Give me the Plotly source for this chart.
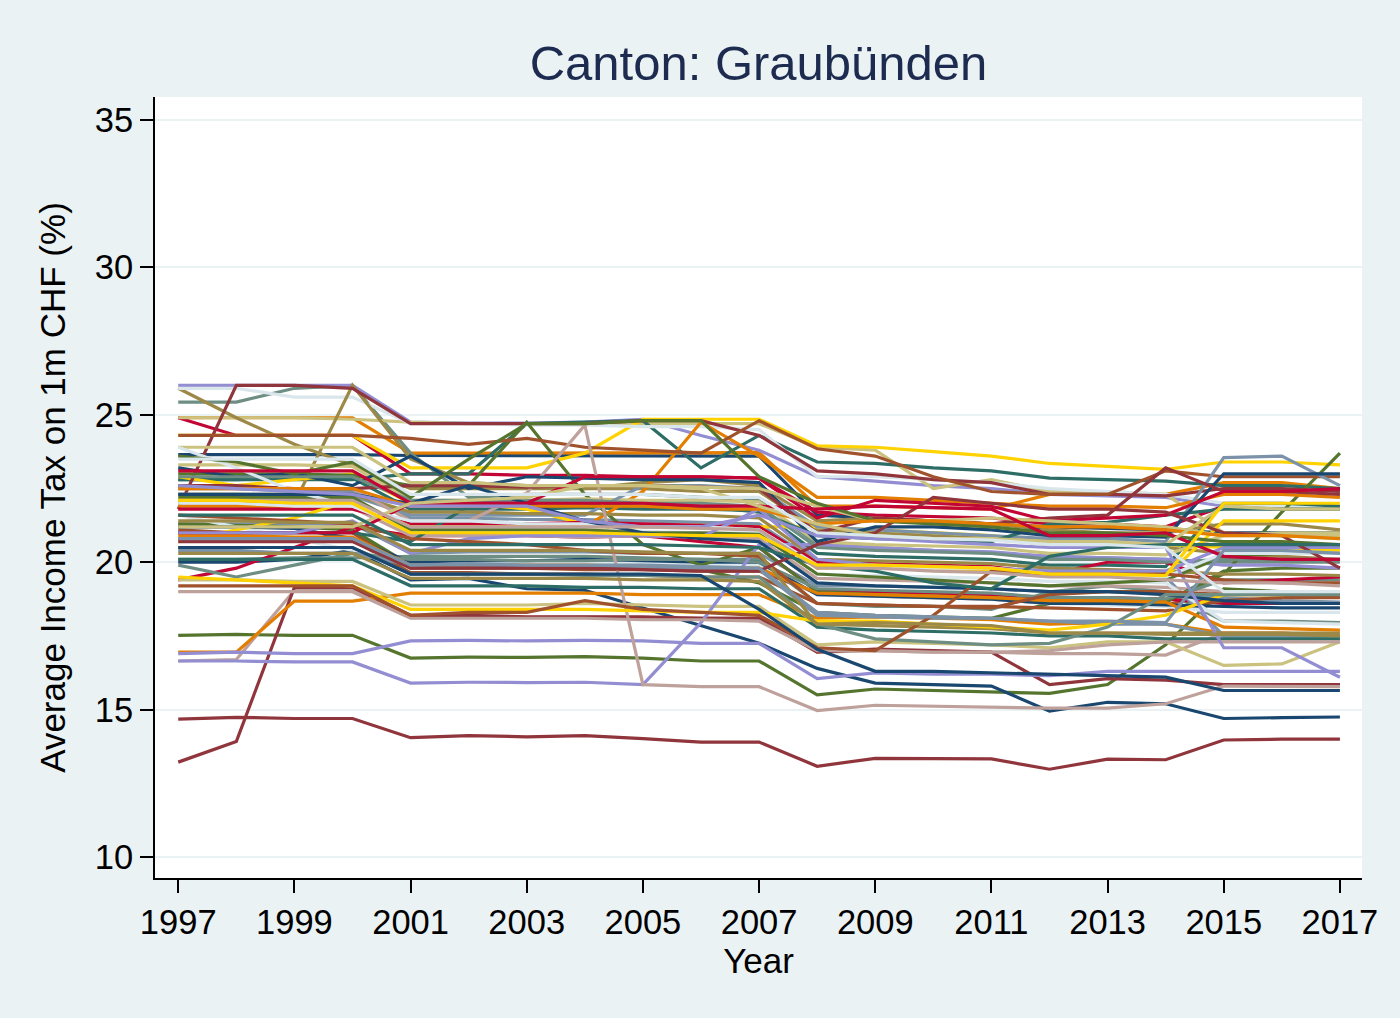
import plotly.graph_objects as go

years = list(range(1997, 2018))

# stata s2color palette
navy = "#1a476f"
maroon = "#90353b"
forest_green = "#55752f"
dkorange = "#e37e00"
teal = "#6e8e84"
cranberry = "#c10534"
lavender = "#938dd2"
khaki = "#cac27e"
sienna = "#a0522d"
emidblue = "#7b92a8"
emerald = "#2d6d66"
brown = "#9c8847"
erose = "#bfa19c"
gold = "#ffd200"
bluishgray = "#d9e6eb"

# one list per municipality, years 1997..2017 (tax in %)
muni_01 = [23.65, 23.65, 23.65, 23.65, 23.62, 23.62, 23.62, 23.62, 23.62, 23.6, 23.6, 21.6, 21.5, 21.4, 21.3, 21.2, 21.15, 21.1, 21.0, 21.0, 21.0]
muni_02 = [14.68, 14.74, 14.7, 14.7, 14.05, 14.12, 14.08, 14.12, 14.02, 13.9, 13.9, 13.08, 13.35, 13.33, 13.33, 12.98, 13.32, 13.3, 13.97, 14.0, 14.0]
muni_03 = [17.52, 17.55, 17.52, 17.52, 16.75, 16.78, 16.77, 16.8, 16.75, 16.65, 16.65, 15.5, 15.7, 15.65, 15.62, 15.55, 15.85, 17.2, 19.1, 19.0, 18.9]
muni_04 = [24.9, 24.9, 24.9, 24.9, 23.7, 23.7, 23.7, 23.7, 23.72, 23.72, 23.72, 21.9, 21.9, 21.85, 21.8, 22.3, 22.3, 22.3, 22.7, 22.7, 22.5]
muni_05 = [25.43, 25.43, 25.9, 26.0, 23.7, 22.2, 22.3, 22.3, 22.3, 22.2, 22.1, 20.6, 20.5, 20.4, 20.3, 20.2, 20.15, 20.1, 20.0, 20.0, 20.0]
muni_06 = [24.9, 24.3, 24.3, 24.3, 23.0, 23.0, 22.95, 22.95, 22.9, 22.9, 22.85, 21.7, 21.6, 21.55, 21.5, 21.3, 21.3, 21.2, 21.9, 21.8, 21.8]
muni_07 = [26.0, 26.0, 26.0, 26.0, 24.75, 24.72, 24.72, 24.75, 24.85, 24.3, 23.8, 22.9, 22.75, 22.6, 22.5, 22.3, 22.25, 22.2, 21.9, 21.8, 21.8]
muni_08 = [24.9, 24.9, 24.9, 24.85, 24.75, 24.7, 24.7, 24.7, 24.7, 24.7, 24.7, 23.9, 23.8, 22.5, 22.8, 22.4, 22.4, 22.3, 21.0, 20.9, 20.8]
muni_09 = [21.1, 21.0, 21.0, 21.0, 19.8, 19.8, 19.8, 19.75, 19.75, 19.7, 19.7, 18.95, 18.85, 18.8, 18.75, 18.6, 18.6, 18.55, 19.0, 19.0, 19.0]
muni_10 = [21.3, 21.3, 21.3, 21.3, 20.3, 20.35, 20.35, 20.35, 20.3, 20.3, 20.3, 19.2, 19.2, 19.15, 19.1, 19.0, 19.0, 18.95, 18.8, 18.7, 18.65]
muni_11 = [22.8, 22.8, 22.8, 22.8, 23.0, 23.0, 24.7, 24.75, 24.8, 23.2, 24.3, 23.4, 23.35, 23.2, 23.1, 22.85, 22.8, 22.75, 22.6, 22.6, 22.5]
muni_12 = [25.9, 24.9, 24.0, 23.3, 22.5, 22.5, 22.5, 22.5, 22.5, 22.4, 22.4, 21.1, 21.0, 20.9, 20.8, 20.6, 20.5, 20.5, 20.3, 20.2, 20.1]
muni_13 = [16.65, 16.7, 19.05, 19.05, 18.12, 18.15, 18.13, 18.15, 18.12, 18.1, 18.1, 16.95, 17.0, 16.95, 16.95, 16.9, 16.9, 16.85, 17.6, 17.6, 17.5]
muni_14 = [24.3, 24.3, 24.3, 24.3, 23.2, 23.2, 23.2, 23.7, 24.85, 24.85, 24.85, 23.95, 23.9, 23.75, 23.6, 23.35, 23.25, 23.15, 23.4, 23.4, 23.3]
muni_15 = [25.9, 25.9, 25.6, 25.6, 24.7, 24.7, 24.65, 24.65, 24.6, 24.6, 24.5, 22.9, 22.9, 22.8, 22.7, 22.5, 22.4, 22.3, 22.0, 21.9, 21.9]
muni_16 = [20.0, 20.0, 20.1, 20.4, 19.4, 19.45, 19.1, 19.05, 18.45, 17.85, 17.25, 16.4, 15.9, 15.85, 15.8, 14.95, 15.25, 15.2, 14.7, 14.73, 14.75]
muni_17 = [13.22, 13.92, 19.15, 19.15, 18.2, 18.2, 18.15, 18.15, 18.15, 18.1, 18.1, 16.95, 17.05, 17.0, 16.95, 15.85, 16.05, 16.0, 15.85, 15.85, 15.85]
muni_18 = [21.3, 21.25, 21.2, 21.1, 19.9, 19.9, 19.85, 19.85, 19.8, 19.75, 19.3, 18.3, 18.2, 18.15, 18.1, 18.6, 18.6, 18.65, 19.6, 21.7, 23.7]
muni_19 = [16.95, 16.95, 18.68, 18.68, 18.95, 18.95, 18.95, 18.95, 18.9, 18.9, 18.9, 18.1, 18.15, 18.1, 18.05, 17.9, 17.95, 17.9, 17.6, 17.6, 17.5]
muni_20 = [20.1, 20.1, 20.15, 20.15, 20.2, 20.2, 20.2, 20.2, 20.15, 20.1, 20.1, 18.6, 18.5, 18.5, 18.4, 19.0, 19.2, 19.0, 18.0, 18.0, 17.95]
muni_21 = [19.4, 19.8, 20.5, 21.2, 20.9, 20.9, 20.9, 20.85, 20.9, 20.7, 20.5, 19.0, 19.0, 18.95, 18.9, 18.8, 18.8, 18.75, 18.6, 18.6, 18.6]
muni_22 = [16.9, 16.95, 16.9, 16.9, 17.33, 17.35, 17.33, 17.35, 17.33, 17.25, 17.25, 16.05, 16.25, 16.2, 16.2, 16.15, 16.3, 16.3, 16.3, 16.3, 16.3]
muni_23 = [19.4, 19.4, 19.35, 19.35, 18.55, 18.55, 18.55, 18.6, 18.55, 18.5, 18.5, 17.2, 17.3, 17.25, 17.2, 17.1, 17.3, 17.3, 16.5, 16.55, 17.3]
muni_24 = [20.8, 20.8, 20.75, 20.75, 19.65, 19.65, 19.6, 19.6, 19.55, 19.5, 19.5, 18.6, 18.55, 18.5, 18.5, 18.45, 18.4, 18.35, 18.7, 18.8, 18.8]
muni_25 = [22.5, 22.5, 22.4, 22.4, 21.5, 21.5, 21.45, 21.45, 21.4, 21.35, 21.3, 20.0, 19.9, 19.85, 19.8, 19.7, 19.7, 19.5, 17.5, 17.5, 17.5]
muni_26 = [22.8, 22.8, 22.85, 22.85, 21.8, 21.8, 21.8, 21.85, 21.8, 21.8, 21.75, 20.3, 20.2, 20.15, 20.1, 19.9, 19.9, 19.85, 22.0, 22.0, 21.9]
muni_27 = [22.0, 22.0, 22.0, 26.0, 23.5, 22.7, 22.6, 22.5, 22.7, 22.8, 22.6, 21.4, 21.5, 21.4, 21.3, 21.1, 21.0, 21.0, 21.3, 21.3, 21.1]
muni_28 = [21.9, 21.9, 21.9, 21.85, 20.9, 20.9, 20.9, 20.85, 20.9, 20.85, 20.8, 19.45, 19.4, 19.35, 19.3, 19.2, 19.2, 19.15, 19.0, 19.0, 19.0]
muni_29 = [22.9, 22.6, 22.8, 23.0, 22.0, 22.0, 21.8, 21.3, 21.25, 21.25, 21.2, 21.2, 21.1, 21.0, 20.9, 20.7, 20.6, 20.6, 20.5, 20.5, 20.4]
muni_30 = [21.6, 21.2, 20.8, 20.4, 20.0, 20.0, 20.0, 20.0, 19.95, 19.9, 19.9, 18.9, 18.85, 18.8, 18.75, 18.6, 18.55, 18.5, 18.3, 18.3, 18.3]
muni_31 = [21.2, 21.2, 21.15, 20.8, 20.0, 20.05, 20.05, 20.1, 20.05, 20.0, 20.0, 18.9, 18.85, 18.8, 18.75, 18.6, 18.6, 18.55, 18.5, 18.45, 18.45]
muni_32 = [21.8, 26.0, 26.0, 25.9, 24.7, 24.7, 24.7, 24.7, 24.8, 24.8, 24.3, 23.1, 23.0, 22.8, 22.7, 22.3, 22.3, 22.25, 22.5, 22.5, 22.4]
muni_33 = [23.0, 23.0, 23.0, 22.95, 22.6, 22.6, 24.75, 22.3, 20.6, 19.9, 20.5, 19.0, 18.9, 18.85, 18.8, 18.7, 18.7, 18.65, 19.7, 19.8, 19.8]
muni_34 = [21.9, 21.9, 21.85, 21.85, 21.25, 21.25, 21.2, 21.2, 22.4, 24.75, 23.6, 22.2, 22.2, 22.1, 22.0, 21.9, 21.9, 21.85, 22.3, 22.3, 22.2]
muni_35 = [19.9, 19.5, 19.9, 20.3, 20.1, 20.1, 20.05, 20.05, 20.1, 20.1, 20.0, 19.1, 19.05, 19.0, 18.95, 18.8, 18.8, 18.75, 19.4, 19.4, 19.4]
muni_36 = [21.8, 21.8, 21.8, 21.8, 21.3, 21.3, 21.3, 21.35, 21.3, 21.25, 21.2, 20.0, 19.95, 19.9, 19.85, 19.6, 20.0, 20.0, 19.3, 19.4, 19.5]
muni_37 = [16.65, 16.65, 16.62, 16.62, 15.9, 15.93, 15.92, 15.93, 15.85, 17.95, 20.6, 20.6, 20.5, 20.4, 20.35, 20.2, 20.15, 20.1, 19.9, 19.9, 19.8]
muni_38 = [23.3, 23.3, 23.3, 23.25, 22.1, 22.1, 22.1, 22.15, 22.1, 22.1, 22.05, 20.7, 20.6, 20.55, 20.5, 20.3, 20.3, 20.25, 20.9, 21.0, 21.0]
muni_39 = [24.3, 24.3, 24.3, 24.3, 24.2, 24.0, 24.2, 23.9, 23.8, 23.7, 24.8, 23.85, 23.6, 22.9, 22.4, 22.3, 22.3, 23.1, 22.9, 22.9, 22.9]
muni_40 = [22.3, 22.3, 22.25, 22.25, 21.6, 21.6, 21.6, 21.6, 22.6, 22.6, 22.5, 21.2, 21.1, 21.0, 20.9, 20.8, 20.8, 20.7, 23.55, 23.6, 22.6]
muni_41 = [21.0, 21.0, 21.0, 21.0, 20.7, 21.9, 22.0, 22.0, 21.9, 21.9, 21.7, 20.9, 20.8, 20.75, 20.7, 21.3, 21.35, 21.6, 21.8, 21.8, 21.8]
muni_42 = [22.3, 22.3, 22.3, 22.3, 21.7, 21.7, 21.65, 21.65, 21.6, 21.6, 21.5, 20.1, 20.05, 20.0, 19.95, 19.8, 19.75, 19.7, 19.6, 19.6, 19.55]
muni_43 = [22.5, 22.5, 22.5, 22.5, 21.4, 21.4, 22.35, 24.65, 15.85, 15.78, 15.78, 14.97, 15.15, 15.12, 15.1, 15.05, 15.05, 15.2, 15.8, 15.78, 15.78]
muni_44 = [20.7, 21.1, 21.5, 22.1, 21.2, 21.2, 21.2, 21.2, 21.2, 21.2, 21.1, 19.8, 19.8, 19.75, 19.7, 19.6, 19.55, 19.5, 21.4, 21.4, 21.4]
muni_45 = [22.0, 22.0, 21.9, 21.9, 21.1, 21.1, 21.1, 21.1, 21.05, 21.0, 21.0, 19.6, 19.55, 19.5, 19.45, 19.35, 19.35, 19.3, 18.0, 17.95, 17.9]
muni_46 = [23.2, 22.9, 23.0, 22.6, 23.6, 22.5, 22.9, 22.85, 22.8, 22.8, 22.7, 20.7, 21.2, 21.2, 21.1, 20.9, 20.9, 20.85, 23.0, 23.0, 23.0]
muni_47 = [22.6, 22.6, 22.5, 22.5, 22.6, 22.6, 22.55, 22.6, 22.6, 22.55, 22.5, 21.0, 21.5, 21.4, 21.3, 21.5, 21.6, 23.2, 22.4, 22.4, 22.3]
muni_48 = [22.2, 22.2, 22.2, 22.2, 21.1, 21.1, 21.1, 21.1, 21.0, 21.0, 20.95, 19.6, 19.5, 19.4, 19.3, 19.2, 19.3, 19.4, 20.2, 20.3, 20.3]
muni_49 = [20.9, 20.9, 20.85, 20.85, 19.9, 19.9, 19.9, 19.9, 19.85, 19.8, 19.8, 18.95, 18.9, 18.85, 18.8, 18.7, 18.7, 18.65, 17.8, 17.75, 17.7]
muni_50 = [22.9, 22.9, 22.9, 22.9, 22.1, 22.1, 22.1, 22.1, 22.0, 22.0, 21.9, 20.5, 20.4, 20.35, 20.3, 20.1, 20.1, 20.0, 20.1, 20.1, 20.1]
muni_51 = [21.0, 21.0, 21.0, 21.0, 22.0, 22.0, 22.0, 22.9, 22.9, 22.9, 22.85, 21.5, 22.1, 22.0, 21.9, 21.4, 21.5, 21.6, 22.4, 22.4, 22.5]
muni_52 = [21.0, 21.0, 21.0, 21.4, 20.3, 20.8, 20.9, 20.9, 20.9, 20.85, 21.8, 20.1, 19.9, 19.85, 19.8, 19.7, 19.7, 19.7, 20.5, 20.5, 20.5]
muni_53 = [23.9, 23.9, 23.9, 23.9, 22.7, 22.7, 22.6, 22.6, 22.6, 22.55, 22.5, 21.9, 21.4, 21.4, 21.5, 21.4, 21.3, 21.2, 20.9, 20.9, 20.9]
muni_54 = [21.6, 21.5, 21.4, 21.3, 20.8, 20.7, 20.6, 20.4, 20.3, 20.3, 20.2, 18.6, 18.55, 18.5, 18.45, 18.9, 19.0, 19.0, 18.9, 18.9, 18.9]
muni_55 = [20.4, 20.4, 20.3, 20.3, 19.9, 19.9, 19.85, 19.85, 19.8, 19.8, 19.75, 18.2, 18.15, 18.1, 18.1, 18.0, 17.9, 17.9, 17.5, 17.5, 17.5]
muni_56 = [20.1, 20.1, 20.1, 20.1, 19.2, 19.2, 19.2, 19.15, 19.15, 19.1, 19.1, 17.8, 17.7, 17.65, 17.6, 17.5, 17.5, 17.4, 17.4, 17.4, 17.4]
muni_57 = [21.4, 21.4, 21.35, 21.35, 20.4, 20.4, 20.4, 20.4, 20.35, 20.3, 20.3, 17.9, 17.85, 17.8, 17.75, 17.6, 17.6, 17.6, 17.6, 17.6, 17.6]
muni_58 = [19.0, 19.0, 19.0, 19.0, 18.1, 18.1, 18.1, 18.1, 18.05, 18.05, 18.0, 17.0, 17.0, 16.95, 16.95, 17.0, 17.2, 17.3, 17.3, 17.3, 17.3]
muni_59 = [19.5, 19.4, 19.3, 19.2, 18.4, 18.4, 18.4, 18.4, 18.35, 18.3, 18.3, 18.0, 18.0, 17.9, 17.8, 17.7, 17.9, 18.2, 18.9, 18.9, 19.0]
muni_60 = [23.9, 23.2, 22.4, 21.9, 21.4, 21.4, 21.3, 21.3, 21.2, 21.2, 21.1, 19.9, 19.85, 19.8, 19.8, 19.6, 19.6, 19.5, 20.3, 20.3, 20.3]
muni_61 = [22.3, 22.3, 22.3, 22.3, 22.0, 22.6, 22.0, 21.4, 21.0, 20.8, 20.7, 19.3, 19.2, 19.15, 19.1, 19.0, 19.0, 18.9, 18.7, 18.6, 18.6]
muni_62 = [20.7, 20.7, 20.7, 20.7, 19.8, 19.8, 19.8, 19.8, 19.75, 19.7, 19.7, 20.6, 21.0, 22.2, 22.0, 21.8, 21.8, 21.7, 21.0, 20.9, 19.8]
muni_63 = [23.6, 23.4, 23.0, 23.4, 22.2, 23.5, 24.7, 24.7, 24.8, 24.8, 22.9, 22.0, 21.4, 21.3, 21.2, 21.0, 21.0, 20.9, 20.7, 20.7, 20.6]
muni_64 = [22.5, 22.5, 22.5, 22.5, 21.9, 21.9, 21.9, 21.9, 21.9, 21.8, 21.8, 21.3, 21.4, 21.4, 21.3, 21.2, 21.2, 21.1, 20.9, 20.9, 20.8]
muni_65 = [20.5, 20.5, 20.5, 20.5, 19.6, 19.6, 19.6, 19.55, 19.55, 19.5, 19.5, 17.9, 17.4, 17.3, 17.2, 17.25, 17.8, 18.9, 18.9, 18.9, 18.9]
muni_66 = [23.1, 23.1, 23.1, 23.1, 22.0, 22.0, 22.0, 22.0, 22.0, 21.9, 21.9, 21.8, 21.9, 21.85, 21.8, 20.9, 20.9, 21.0, 20.2, 20.1, 20.1]
muni_67 = [22.6, 22.5, 22.4, 22.3, 21.9, 21.9, 21.9, 21.4, 21.2, 21.2, 21.6, 20.9, 20.8, 20.7, 20.6, 20.5, 20.5, 20.5, 17.1, 17.1, 16.1]
muni_68 = [21.2, 21.2, 21.2, 21.2, 22.0, 22.1, 22.2, 22.6, 22.6, 22.5, 21.9, 21.3, 20.9, 20.8, 20.8, 20.7, 20.7, 20.6, 21.9, 21.8, 21.8]
muni_69 = [19.2, 19.2, 19.2, 19.2, 18.2, 18.3, 18.3, 18.7, 18.4, 18.3, 18.2, 17.1, 17.0, 18.2, 19.7, 19.6, 19.6, 19.6, 19.4, 19.3, 19.3]
muni_70 = [20.8, 20.8, 20.8, 20.8, 19.9, 19.95, 19.9, 19.9, 19.9, 19.85, 19.8, 18.3, 18.2, 18.15, 18.1, 18.0, 18.0, 17.95, 20.4, 20.4, 20.3]
muni_71 = [21.6, 21.6, 21.6, 21.6, 20.6, 20.6, 20.6, 20.6, 20.6, 20.55, 20.5, 19.9, 19.7, 19.3, 19.1, 20.2, 20.5, 20.6, 20.6, 20.6, 20.6]
muni_72 = [20.3, 20.3, 20.3, 20.3, 19.45, 19.45, 19.45, 19.45, 19.4, 19.4, 19.35, 17.9, 17.95, 17.9, 17.85, 17.6, 17.6, 17.55, 17.55, 17.55, 17.5]
muni_73 = [22.1, 22.1, 22.1, 22.1, 21.2, 21.2, 21.2, 21.2, 21.2, 21.15, 21.1, 19.8, 19.8, 19.7, 19.65, 19.5, 19.5, 19.4, 19.3, 19.3, 19.2]
muni_74 = [22.1, 22.1, 22.0, 22.0, 21.0, 21.0, 21.0, 21.0, 20.95, 20.9, 20.9, 19.9, 19.9, 19.85, 19.8, 19.6, 19.6, 19.55, 22.0, 22.0, 22.0]
muni_75 = [23.5, 23.5, 23.5, 23.5, 22.3, 22.3, 22.3, 22.3, 22.3, 22.2, 22.2, 21.0, 20.9, 20.8, 20.75, 20.6, 20.6, 20.5, 19.0, 19.0, 19.0]
muni_76 = [20.5, 20.5, 20.5, 20.5, 19.6, 19.6, 19.6, 19.6, 19.6, 19.55, 18.4, 17.05, 16.3, 16.3, 16.25, 16.2, 16.15, 16.1, 15.65, 15.65, 15.65]

municipalities = [
    muni_01, muni_02, muni_03, muni_04, muni_05, muni_06, muni_07, muni_08, muni_09, muni_10,
    muni_11, muni_12, muni_13, muni_14, muni_15, muni_16, muni_17, muni_18, muni_19, muni_20,
    muni_21, muni_22, muni_23, muni_24, muni_25, muni_26, muni_27, muni_28, muni_29, muni_30,
    muni_31, muni_32, muni_33, muni_34, muni_35, muni_36, muni_37, muni_38, muni_39, muni_40,
    muni_41, muni_42, muni_43, muni_44, muni_45, muni_46, muni_47, muni_48, muni_49, muni_50,
    muni_51, muni_52, muni_53, muni_54, muni_55, muni_56, muni_57, muni_58, muni_59, muni_60,
    muni_61, muni_62, muni_63, muni_64, muni_65, muni_66, muni_67, muni_68, muni_69, muni_70,
    muni_71, muni_72, muni_73, muni_74, muni_75, muni_76,
]
palette = [navy, maroon, forest_green, dkorange, teal, cranberry, lavender, khaki,
           sienna, emidblue, emerald, brown, erose, gold, bluishgray]

x_ticks = [1997, 1999, 2001, 2003, 2005, 2007, 2009, 2011, 2013, 2015, 2017]
y_ticks = [10, 15, 20, 25, 30, 35]

fig = go.Figure()
for i, vals in enumerate(municipalities):
    fig.add_trace(go.Scatter(
        x=years, y=vals, mode="lines",
        line=dict(color=palette[i % len(palette)], width=3.2),
        showlegend=False, hoverinfo="skip"))

bg = "#eaf2f3"
fig.update_layout(
    width=1400, height=1018,
    paper_bgcolor=bg, plot_bgcolor="white",
    margin=dict(l=155, r=38, t=97, b=140),
    font=dict(family="Liberation Sans, Arial, sans-serif", color="black", size=30),
    title=dict(text="Canton: Graubünden", x=0.5, xref="paper", xanchor="center",
               y=1 - 63 / 1018, yref="container", yanchor="middle",
               font=dict(size=49, color="#1c2b4f")),
    showlegend=False,
)
fig.update_xaxes(
    range=[1996.6, 2017.38], tickvals=x_ticks, ticks="outside", ticklen=13,
    tickwidth=1.5, tickcolor="black", showline=True, linecolor="black", linewidth=2,
    showgrid=False, zeroline=False,
    title=dict(text="Year", standoff=0, font=dict(size=35)),
    tickfont=dict(size=34.5),
)
fig.update_yaxes(
    range=[9.29, 35.78], tickvals=y_ticks, ticks="outside", ticklen=13,
    tickwidth=1.5, tickcolor="black", showline=True, linecolor="black", linewidth=2,
    showgrid=True, gridcolor=bg, gridwidth=2, zeroline=False,
    title=dict(text="Average Income Tax on 1m CHF (%)", standoff=18, font=dict(size=35)),
    tickfont=dict(size=34.5),
)

# drop the page margin so the figure fills the window
fig.write_html("out.html", config={"displayModeBar": False},
               post_script="document.body.style.margin='0';")
